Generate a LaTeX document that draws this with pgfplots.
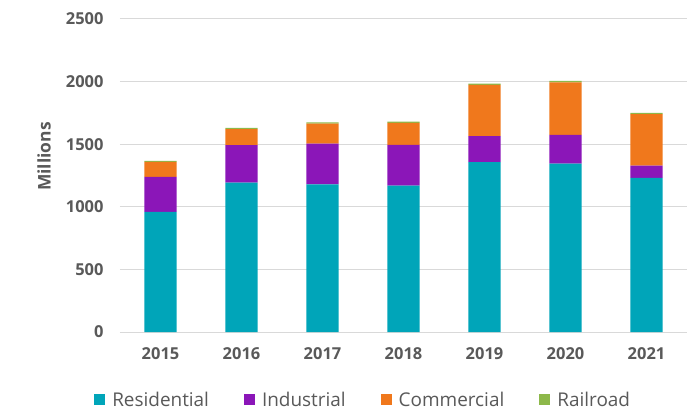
\documentclass[border=0pt]{standalone}
\usepackage{fontspec}
\setmainfont{Open Sans}
\usepackage{pgfplots}
\pgfplotsset{compat=1.18}

\definecolor{resid}{HTML}{00A5B9}
\definecolor{indus}{HTML}{8B16B8}
\definecolor{comm}{HTML}{F0781C}
\definecolor{rail}{HTML}{8DB84A}
\definecolor{txt}{HTML}{595959}
\definecolor{grd}{HTML}{D9D9D9}

% year index, residential, industrial, commercial, railroad (millions)
\pgfplotstableread{
x res ind com rail
0 960  280 118 8
1 1193 299 128 10
2 1179 326 160 10
3 1169 326 176 10
4 1356 208 409 10
5 1345 230 419 11
6 1231 98  412 10
}\datatable

\begin{document}
\begin{tikzpicture}
\begin{axis}[
    scale only axis,
    width=567bp, height=313bp,
    ybar stacked,
    bar width=0.4,
    xmin=-0.5, xmax=6.5,
    ymin=0, ymax=2500,
    ytick={0,500,...,2500},
    xtick=data,
    xticklabels={2015,2016,2017,2018,2019,2020,2021},
    axis line style={draw=none},
    major tick length=0pt,
    ymajorgrids,
    grid style={grd, line width=1bp},
    tick label style={font=\fontsize{16.5}{18}\selectfont\bfseries, text=txt},
    /pgf/number format/assume math mode=true,
    /pgf/number format/1000 sep={},
    yticklabel style={xshift=-13bp},
    xticklabel style={yshift=-12bp},
    ylabel={Millions},
    every axis y label/.style={at={(rel axis cs:0,0.5)}, xshift=-76bp, yshift=19bp,
        rotate=90, anchor=center},
    ylabel style={font=\fontsize{17.5}{19}\selectfont\bfseries, text=txt},
    legend style={draw=none, at={(0.428,-0.217)}, anchor=center,
        legend columns=4, font=\fontsize{19}{21}\selectfont, text=txt,
        nodes={inner sep=1bp},
        /tikz/every odd column/.append style={column sep=6bp},
        /tikz/every even column/.append style={column sep=34bp}},
    legend image code/.code={\fill (0bp,-5.5bp) rectangle (11bp,5.5bp);},
]
\addplot[fill=resid, draw=none] table[x=x, y=res] {\datatable};
\addlegendentry{Residential}
\addplot[fill=indus, draw=none] table[x=x, y=ind] {\datatable};
\addlegendentry{Industrial}
\addplot[fill=comm, draw=none] table[x=x, y=com] {\datatable};
\addlegendentry{Commercial}
\addplot[fill=rail, draw=none] table[x=x, y=rail] {\datatable};
\addlegendentry{Railroad}
\coordinate (ll) at (rel axis cs:0,0);
\coordinate (ur) at (rel axis cs:1,1);
\end{axis}
\pgfresetboundingbox
\path[use as bounding box] ([xshift=-120bp,yshift=-82bp]ll) rectangle ([xshift=9bp,yshift=19bp]ur);
\end{tikzpicture}
\end{document}
